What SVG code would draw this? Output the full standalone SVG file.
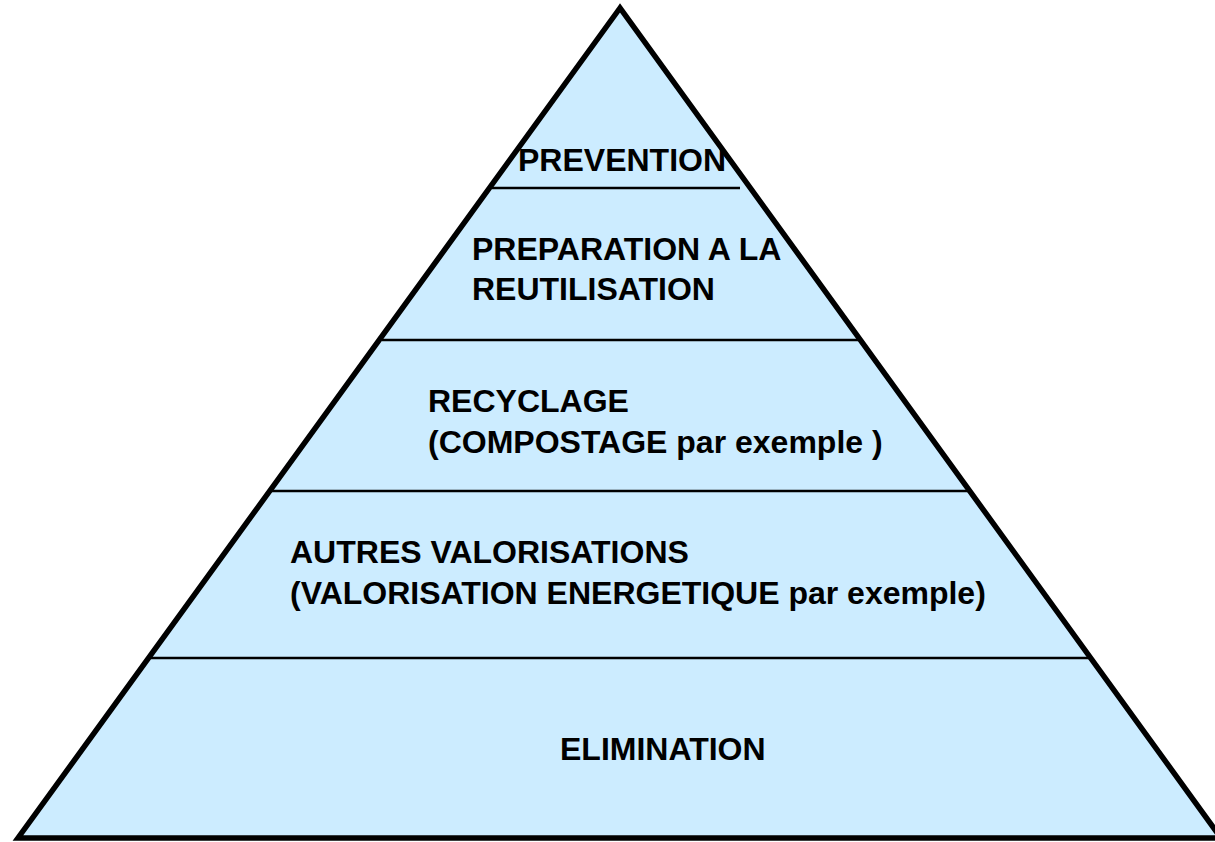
<svg xmlns="http://www.w3.org/2000/svg" width="1215" height="842" viewBox="0 0 1215 842">
<style>
.t{font-family:"Liberation Sans",Arial,sans-serif;font-weight:bold;font-size:32px;fill:#000}
.sep{stroke:#000;stroke-width:2.5;fill:none}
</style>
<rect width="1215" height="842" fill="#fff"/>
<g id="pyramid">
<polygon points="620,8 18,838 1221,838" fill="#CCECFF" stroke="#000" stroke-width="5.5" stroke-linejoin="miter" stroke-miterlimit="20"/>
</g>
<g id="connectors">
<line class="sep" x1="492" y1="188" x2="740" y2="188"/>
<line class="sep" x1="382" y1="340" x2="858" y2="340"/>
<line class="sep" x1="270" y1="491" x2="970" y2="491"/>
<line class="sep" x1="151" y1="658" x2="1092" y2="658"/>
</g>
<g id="prevention"><text class="t" x="518" y="171">PREVENTION</text></g>
<g id="preparation"><text class="t" x="472" y="260">PREPARATION A LA</text><text class="t" x="472" y="300">REUTILISATION</text></g>
<g id="recyclage"><text class="t" x="428" y="412">RECYCLAGE</text><text class="t" x="428" y="453">(COMPOSTAGE par exemple )</text></g>
<g id="valorisations"><text class="t" x="290" y="563">AUTRES VALORISATIONS</text><text class="t" x="290" y="604">(VALORISATION ENERGETIQUE par exemple)</text></g>
<g id="elimination"><text class="t" x="560" y="760">ELIMINATION</text></g>
</svg>
